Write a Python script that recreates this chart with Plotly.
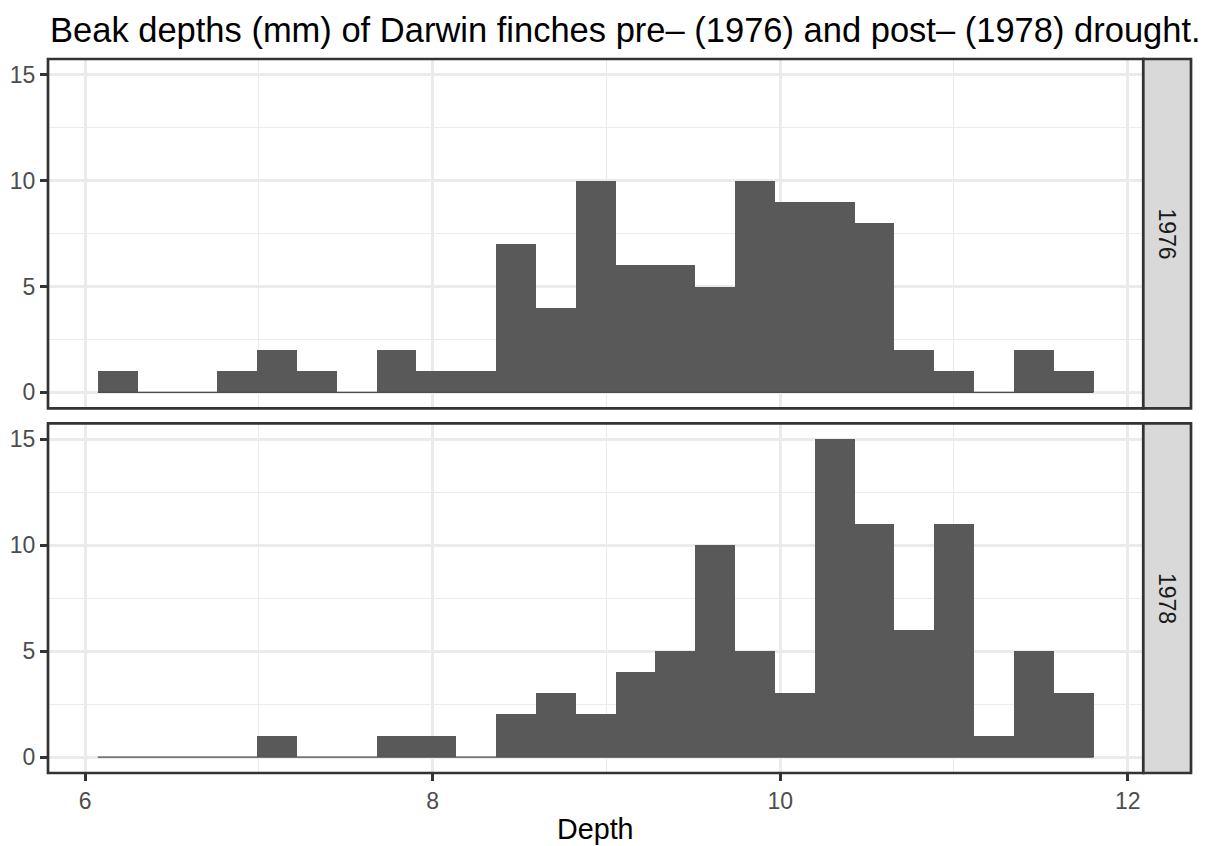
import plotly.graph_objects as go
import numpy as np

# ---- data ----
years = ["1976", "1978"]
bin_start = 6.073
bin_width = 0.2292
counts_1976 = [1, 0, 0, 1, 2, 1, 0, 2, 1, 1, 7, 4, 10, 6, 6, 5, 10, 9, 9, 8, 2, 1, 0, 2, 1]
counts_1978 = [0, 0, 0, 0, 1, 0, 0, 1, 1, 0, 2, 3, 2, 4, 5, 10, 5, 3, 15, 11, 6, 11, 1, 5, 3]
x_ticks = [6, 8, 10, 12]
y_ticks = [0, 5, 10, 15]
title_text = "Beak depths (mm) of Darwin finches pre\u2013 (1976) and post\u2013 (1978) drought."
x_title = "Depth"

W, H = 1217, 846
FONT = "Liberation Sans, Arial, Helvetica, sans-serif"
BAR = "#595959"
GRID = "#EBEBEB"
DARK = "#333333"
LW = 2.7

nb = len(counts_1976)
edges = bin_start + bin_width * np.arange(nb + 1)
centers = (edges[:-1] + edges[1:]) / 2
span = edges[-1] - edges[0]
xr = [edges[0] - 0.05 * span, edges[-1] + 0.05 * span]
ymax = max(max(counts_1976), max(counts_1978))
yr = [-0.05 * ymax, ymax * 1.05]

def px(x):
    return x / W

def py(y):
    return 1 - y / H

# panel geometry (pixels)
pl, pr = 48, 1143.3
strip_r = 1191
panels = [(59, 408.3), (423.3, 773)]

fig = go.Figure()
for i, (yr_name, counts) in enumerate(zip(years, [counts_1976, counts_1978])):
    xa = "x" if i == 0 else "x2"
    ya = "y" if i == 0 else "y2"
    fig.add_trace(go.Scatter(x=[edges[0], edges[-1]], y=[0, 0], mode="lines",
                             line=dict(color="#4D4D4D", width=1.2), xaxis=xa, yaxis=ya,
                             showlegend=False, hoverinfo="skip"))
    fig.add_trace(go.Bar(x=centers, y=counts, width=bin_width, marker=dict(color=BAR, line=dict(width=0)),
                         xaxis=xa, yaxis=ya, showlegend=False))

TICKFONT = dict(family=FONT, size=23, color="#4D4D4D")
common_x = dict(range=xr, domain=[px(pl), px(pr)], showgrid=True, gridcolor=GRID, gridwidth=LW,
                tickvals=x_ticks, zeroline=False, showline=False, automargin=False,
                minor=dict(showgrid=True, gridcolor=GRID, gridwidth=1.3, dtick=1, tick0=0, ticks=""),
                tickfont=TICKFONT)
common_y = dict(range=yr, showgrid=True, gridcolor=GRID, gridwidth=LW, tickvals=y_ticks,
                zeroline=False, showline=False, automargin=False,
                ticks="outside", ticklen=7, tickwidth=LW, tickcolor=DARK,
                minor=dict(showgrid=True, gridcolor=GRID, gridwidth=1.3, dtick=2.5, tick0=0, ticks=""),
                tickfont=TICKFONT)

fig.update_layout(
    width=W, height=H, margin=dict(l=0, r=0, t=0, b=0),
    paper_bgcolor="white", plot_bgcolor="white", bargap=0, barmode="overlay",
    xaxis=dict(**common_x, anchor="y", showticklabels=False, ticks=""),
    yaxis=dict(**common_y, anchor="x", domain=[py(panels[0][1]), py(panels[0][0])]),
    xaxis2=dict(**common_x, anchor="y2", ticks="outside", ticklen=7, tickwidth=LW, tickcolor=DARK),
    yaxis2=dict(**common_y, anchor="x2", domain=[py(panels[1][1]), py(panels[1][0])]),
    font=dict(family=FONT),
    hovermode=False,
)

shapes = []
annotations = []
for i, (top, bot) in enumerate(panels):
    shapes.append(dict(type="rect", xref="paper", yref="paper", x0=px(pl), x1=px(pr),
                       y0=py(bot), y1=py(top), line=dict(color=DARK, width=LW),
                       fillcolor="rgba(0,0,0,0)", layer="above"))
    shapes.append(dict(type="rect", xref="paper", yref="paper", x0=px(pr), x1=px(strip_r),
                       y0=py(bot), y1=py(top), line=dict(color=DARK, width=LW),
                       fillcolor="#D9D9D9", layer="above"))
    annotations.append(dict(text=years[i], xref="paper", yref="paper", x=px((pr + strip_r) / 2),
                            y=py((top + bot) / 2), showarrow=False, textangle=90,
                            xanchor="center", yanchor="middle",
                            font=dict(family=FONT, size=23, color="#1A1A1A")))

annotations.append(dict(text=title_text, xref="paper", yref="paper", x=px(pl), y=py(29.5),
                        xanchor="left", yanchor="middle", showarrow=False,
                        font=dict(family=FONT, size=34.5, color="black")))
annotations.append(dict(text=x_title, xref="paper", yref="paper", x=px((pl + pr) / 2), y=py(829),
                        xanchor="center", yanchor="middle", showarrow=False,
                        font=dict(family=FONT, size=28.7, color="black")))

fig.update_layout(shapes=shapes, annotations=annotations)
fig.write_html("out.html", config={"displayModeBar": False},
               post_script="document.body.style.margin='0px';document.body.style.padding='0px';")
